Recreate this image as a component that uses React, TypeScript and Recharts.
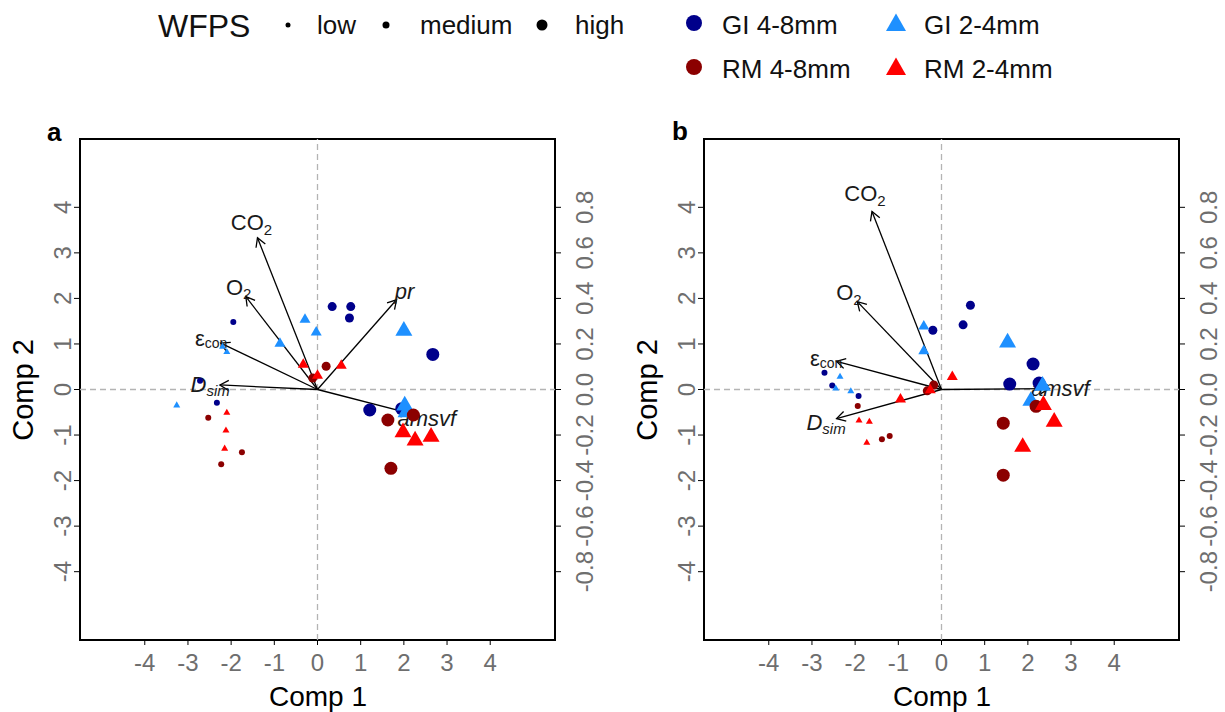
import React from 'react';
import { ScatterChart, Scatter, XAxis, YAxis, ReferenceLine, ReferenceArea } from 'recharts';

const FONT = '"Liberation Sans", Arial, sans-serif';
const TICK_COLOR = '#6e6e6e';

type Wfps = 'low' | 'medium' | 'high';
type Pt = [number, number, Wfps];
type Loading = [string, number, number];

// PCA scores, panel a
const aGi48: Pt[] = [
  [-1.95, 1.48, 'low'], [-2.33, -0.29, 'low'], [-2.72, 0.19, 'low'],
  [0.34, 1.82, 'medium'], [0.77, 1.82, 'medium'], [0.74, 1.57, 'medium'],
  [2.67, 0.77, 'high'], [1.21, -0.45, 'high'], [1.95, -0.42, 'high'],
];
const aGi24: Pt[] = [
  [-3.26, -0.34, 'low'], [-2.1, 0.83, 'low'], [-2.2, 0.95, 'low'],
  [-0.29, 1.55, 'medium'], [-0.03, 1.27, 'medium'], [-0.87, 1.02, 'medium'],
  [2.0, 1.31, 'high'], [2.02, -0.33, 'high'], [2.05, -0.48, 'high'],
];
const aRm48: Pt[] = [
  [-2.53, -0.62, 'low'], [-1.75, -1.38, 'low'], [-2.23, -1.64, 'low'],
  [0.2, 0.51, 'medium'], [-0.11, 0.25, 'medium'],
  [1.63, -0.67, 'high'], [1.7, -1.73, 'high'], [2.22, -0.56, 'high'],
];
const aRm24: Pt[] = [
  [-2.1, -0.5, 'low'], [-2.12, -0.89, 'low'], [-2.15, -1.29, 'low'],
  [-0.33, 0.56, 'medium'], [0.55, 0.54, 'medium'], [0.0, 0.32, 'medium'],
  [1.98, -0.92, 'high'], [2.26, -1.1, 'high'], [2.63, -1.02, 'high'],
];

// PCA scores, panel b
const bGi48: Pt[] = [
  [-2.71, 0.37, 'low'], [-2.53, 0.09, 'low'], [-1.92, -0.14, 'low'],
  [0.67, 1.85, 'medium'], [0.5, 1.42, 'medium'], [-0.2, 1.3, 'medium'],
  [2.12, 0.56, 'high'], [1.58, 0.12, 'high'], [2.26, 0.14, 'high'],
];
const bGi24: Pt[] = [
  [-2.35, 0.29, 'low'], [-2.45, 0.03, 'low'], [-2.1, -0.03, 'low'],
  [-0.41, 1.4, 'medium'], [-0.41, 0.86, 'medium'],
  [1.53, 1.05, 'high'], [2.34, 0.1, 'high'], [2.07, -0.23, 'high'],
];
const bRm48: Pt[] = [
  [-1.94, -0.36, 'low'], [-1.38, -1.09, 'low'], [-1.2, -1.02, 'low'],
  [-0.18, 0.1, 'medium'], [-0.33, -0.03, 'medium'],
  [1.43, -0.74, 'high'], [1.43, -1.88, 'high'], [2.19, -0.37, 'high'],
];
const bRm24: Pt[] = [
  [-1.91, -0.67, 'low'], [-1.67, -0.7, 'low'], [-1.73, -1.16, 'low'],
  [0.25, 0.29, 'medium'], [-0.95, -0.2, 'medium'], [-0.26, 0.0, 'medium'],
  [2.36, -0.32, 'high'], [2.61, -0.69, 'high'], [1.88, -1.24, 'high'],
];

// variable loadings (top / right axes)
const aLoadings: Loading[] = [
  ['CO2', -0.278, 0.666], ['O2', -0.332, 0.408], ['pr', 0.366, 0.394],
  ['econ', -0.448, 0.204], ['Dsim', -0.452, 0.02], ['msvf', 0.46, -0.112],
];
const bLoadings: Loading[] = [
  ['CO2', -0.322, 0.782], ['O2', -0.39, 0.386],
  ['econ', -0.486, 0.124], ['Dsim', -0.486, -0.128], ['msvf', 0.5, 0.004],
];

const scoreTicks = [-4, -3, -2, -1, 0, 1, 2, 3, 4];
const loadTicks = [-0.8, -0.6, -0.4, -0.2, 0, 0.2, 0.4, 0.6, 0.8];

const groups = [
  { name: 'GI 4-8mm', color: '#00008B', kind: 'circle' },
  { name: 'GI 2-4mm', color: '#1E90FF', kind: 'triangle' },
  { name: 'RM 4-8mm', color: '#8B0000', kind: 'circle' },
  { name: 'RM 2-4mm', color: '#FF0000', kind: 'triangle' },
];

const CIRCLE_R: Record<Wfps, number> = { low: 3, medium: 4.5, high: 6.5 };
const TRI_SIDE: Record<Wfps, number> = { low: 7, medium: 11, high: 17 };

function triPoints(cx: number, cy: number, s: number) {
  const h = s * 0.866;
  return `${cx},${cy - h * 0.6} ${cx - s / 2},${cy + h * 0.4} ${cx + s / 2},${cy + h * 0.4}`;
}

function Marker({ cx, cy, w, color, kind }: any) {
  if (cx == null || cy == null) return <g />;
  if (kind === 'circle') return <circle cx={cx} cy={cy} r={CIRCLE_R[w as Wfps]} fill={color} />;
  return <polygon points={triPoints(cx, cy, TRI_SIDE[w as Wfps])} fill={color} />;
}

function loadingLabel(name: string) {
  switch (name) {
    case 'CO2':
      return (<>CO<tspan dy={6} fontSize={15}>2</tspan></>);
    case 'O2':
      return (<>O<tspan dy={6} fontSize={15}>2</tspan></>);
    case 'pr':
      return <tspan fontStyle="italic">pr</tspan>;
    case 'econ':
      return (<>ε<tspan dy={5} fontSize={14}>con</tspan></>);
    case 'Dsim':
      return (<tspan fontStyle="italic">D<tspan dy={6} fontSize={15}>sim</tspan></tspan>);
    default:
      return <tspan fontStyle="italic">amsvf</tspan>;
  }
}

// draws the loading arrow between the two scatter points (origin -> loading)
function arrowLine(name: string) {
  return (p: any) => {
    const pts = p.points;
    if (!pts || pts.length < 2) return <g />;
    const x0 = pts[0].x, y0 = pts[0].y, x1 = pts[1].x, y1 = pts[1].y;
    const a = Math.atan2(y1 - y0, x1 - x0);
    const len = 10, sp = Math.PI / 6;
    const hx1 = x1 - len * Math.cos(a - sp), hy1 = y1 - len * Math.sin(a - sp);
    const hx2 = x1 - len * Math.cos(a + sp), hy2 = y1 - len * Math.sin(a + sp);
    const lx = x0 + (x1 - x0) * 1.1, ly = y0 + (y1 - y0) * 1.1;
    return (
      <g>
        <line x1={x0} y1={y0} x2={x1} y2={y1} stroke="#000" strokeWidth={1.3} />
        <polyline points={`${hx1},${hy1} ${x1},${y1} ${hx2},${hy2}`} fill="none" stroke="#000" strokeWidth={1.3} />
        <text x={lx} y={ly} textAnchor="middle" dominantBaseline="central" fontSize={22} fontFamily={FONT} fill="#1a1a1a">
          {loadingLabel(name)}
        </text>
      </g>
    );
  };
}

const LeftTick = (p: any) => {
  const bx = p.x - 3;
  return (
    <text x={bx} y={p.y} transform={`rotate(-90 ${bx} ${p.y})`} textAnchor="middle" fill={TICK_COLOR} fontSize={24} fontFamily={FONT}>
      {p.payload.value}
    </text>
  );
};

const RightTick = (p: any) => {
  const bx = p.x + 32;
  return (
    <text x={bx} y={p.y} transform={`rotate(-90 ${bx} ${p.y})`} textAnchor="middle" fill={TICK_COLOR} fontSize={24} fontFamily={FONT}>
      {Number(p.payload.value).toFixed(1)}
    </text>
  );
};

function Biplot({ series, loadings }: { series: Pt[][]; loadings: Loading[] }) {
  return (
    <ScatterChart width={624} height={612} margin={{ top: 39, right: 19, bottom: 22, left: 20 }}>
      <XAxis xAxisId="bottom" type="number" dataKey="x" domain={[-5.5, 5.5]} allowDataOverflow ticks={scoreTicks} interval={0}
        axisLine={false} tickLine={{ stroke: '#000' }} tickSize={5} tickMargin={9} height={50}
        tick={{ fill: TICK_COLOR, fontSize: 24, fontFamily: FONT }} />
      <XAxis xAxisId="top" orientation="top" type="number" dataKey="x" domain={[-1.1, 1.1]} allowDataOverflow hide />
      <YAxis yAxisId="left" type="number" dataKey="y" domain={[-5.5, 5.5]} allowDataOverflow ticks={scoreTicks} interval={0}
        axisLine={false} tickLine={{ stroke: '#000' }} tickSize={6} tickMargin={0} width={60} tick={<LeftTick />} />
      <YAxis yAxisId="right" orientation="right" type="number" dataKey="y" domain={[-1.1, 1.1]} allowDataOverflow ticks={loadTicks} interval={0}
        axisLine={false} tickLine={{ stroke: '#000' }} tickSize={6} tickMargin={0} width={50} tick={<RightTick />} />
      <ReferenceLine xAxisId="bottom" yAxisId="left" x={0} stroke="#b4b4b4" strokeWidth={1.3} strokeDasharray="6 4" />
      <ReferenceLine xAxisId="bottom" yAxisId="left" y={0} stroke="#b4b4b4" strokeWidth={1.3} strokeDasharray="6 4" />
      {loadings.map(([name, lx, ly]) => (
        <Scatter key={name} xAxisId="top" yAxisId="right" data={[{ x: 0, y: 0 }, { x: lx, y: ly }]}
          line={arrowLine(name)} shape={() => <g />} isAnimationActive={false} />
      ))}
      {series.map((pts, i) => (
        <Scatter key={groups[i].name} name={groups[i].name} xAxisId="bottom" yAxisId="left"
          data={pts.map(([x, y, w]) => ({ x, y, w }))} isAnimationActive={false}
          shape={(p: any) => <Marker cx={p.cx} cy={p.cy} w={p.payload.w} color={groups[i].color} kind={groups[i].kind} />} />
      ))}
      <ReferenceArea xAxisId="bottom" yAxisId="left" x1={-5.5} x2={5.5} y1={-5.5} y2={5.5}
        fill="none" fillOpacity={0} stroke="#000" strokeWidth={2} strokeOpacity={1} />
    </ScatterChart>
  );
}

function Header() {
  const txt = { fontSize: 26, fontFamily: FONT, fill: '#111' };
  return (
    <svg width={1225} height={712} style={{ position: 'absolute', left: 0, top: 0 }}>
      <text x={158} y={37} fontSize={32} fontFamily={FONT} fill="#111">WFPS</text>
      <circle cx={288} cy={25} r={2.5} fill="#000" />
      <text x={317} y={34} {...txt}>low</text>
      <circle cx={386} cy={25} r={3.5} fill="#000" />
      <text x={420} y={34} {...txt}>medium</text>
      <circle cx={542} cy={25} r={5.5} fill="#000" />
      <text x={575} y={34} {...txt}>high</text>

      <circle cx={694} cy={23} r={8} fill={groups[0].color} />
      <text x={722} y={34} {...txt}>{groups[0].name}</text>
      <polygon points={triPoints(896, 24, 20)} fill={groups[1].color} />
      <text x={924} y={34} {...txt}>{groups[1].name}</text>
      <circle cx={694} cy={67} r={8} fill={groups[2].color} />
      <text x={722} y={78} {...txt}>{groups[2].name}</text>
      <polygon points={triPoints(896, 68, 20)} fill={groups[3].color} />
      <text x={924} y={78} {...txt}>{groups[3].name}</text>

      <text x={47} y={141} fontSize={26} fontWeight="bold" fontFamily={FONT} fill="#000">a</text>
      <text x={672} y={140} fontSize={26} fontWeight="bold" fontFamily={FONT} fill="#000">b</text>

      <text x={318} y={706} textAnchor="middle" fontSize={28} fontFamily={FONT} fill="#000">Comp 1</text>
      <text x={942} y={706} textAnchor="middle" fontSize={28} fontFamily={FONT} fill="#000">Comp 1</text>
      <text x={33} y={390} transform="rotate(-90 33 390)" textAnchor="middle" fontSize={29} fontFamily={FONT} fill="#000">Comp 2</text>
      <text x={657} y={390} transform="rotate(-90 657 390)" textAnchor="middle" fontSize={29} fontFamily={FONT} fill="#000">Comp 2</text>
    </svg>
  );
}

export default function App() {
  return (
    <div style={{ position: 'absolute', left: 0, top: 0, width: 1225, height: 712, background: '#fff', overflow: 'hidden' }}>
      <Header />
      <div style={{ position: 'absolute', left: 0, top: 100 }}>
        <Biplot series={[aGi48, aGi24, aRm48, aRm24]} loadings={aLoadings} />
      </div>
      <div style={{ position: 'absolute', left: 624, top: 100 }}>
        <Biplot series={[bGi48, bGi24, bRm48, bRm24]} loadings={bLoadings} />
      </div>
    </div>
  );
}
